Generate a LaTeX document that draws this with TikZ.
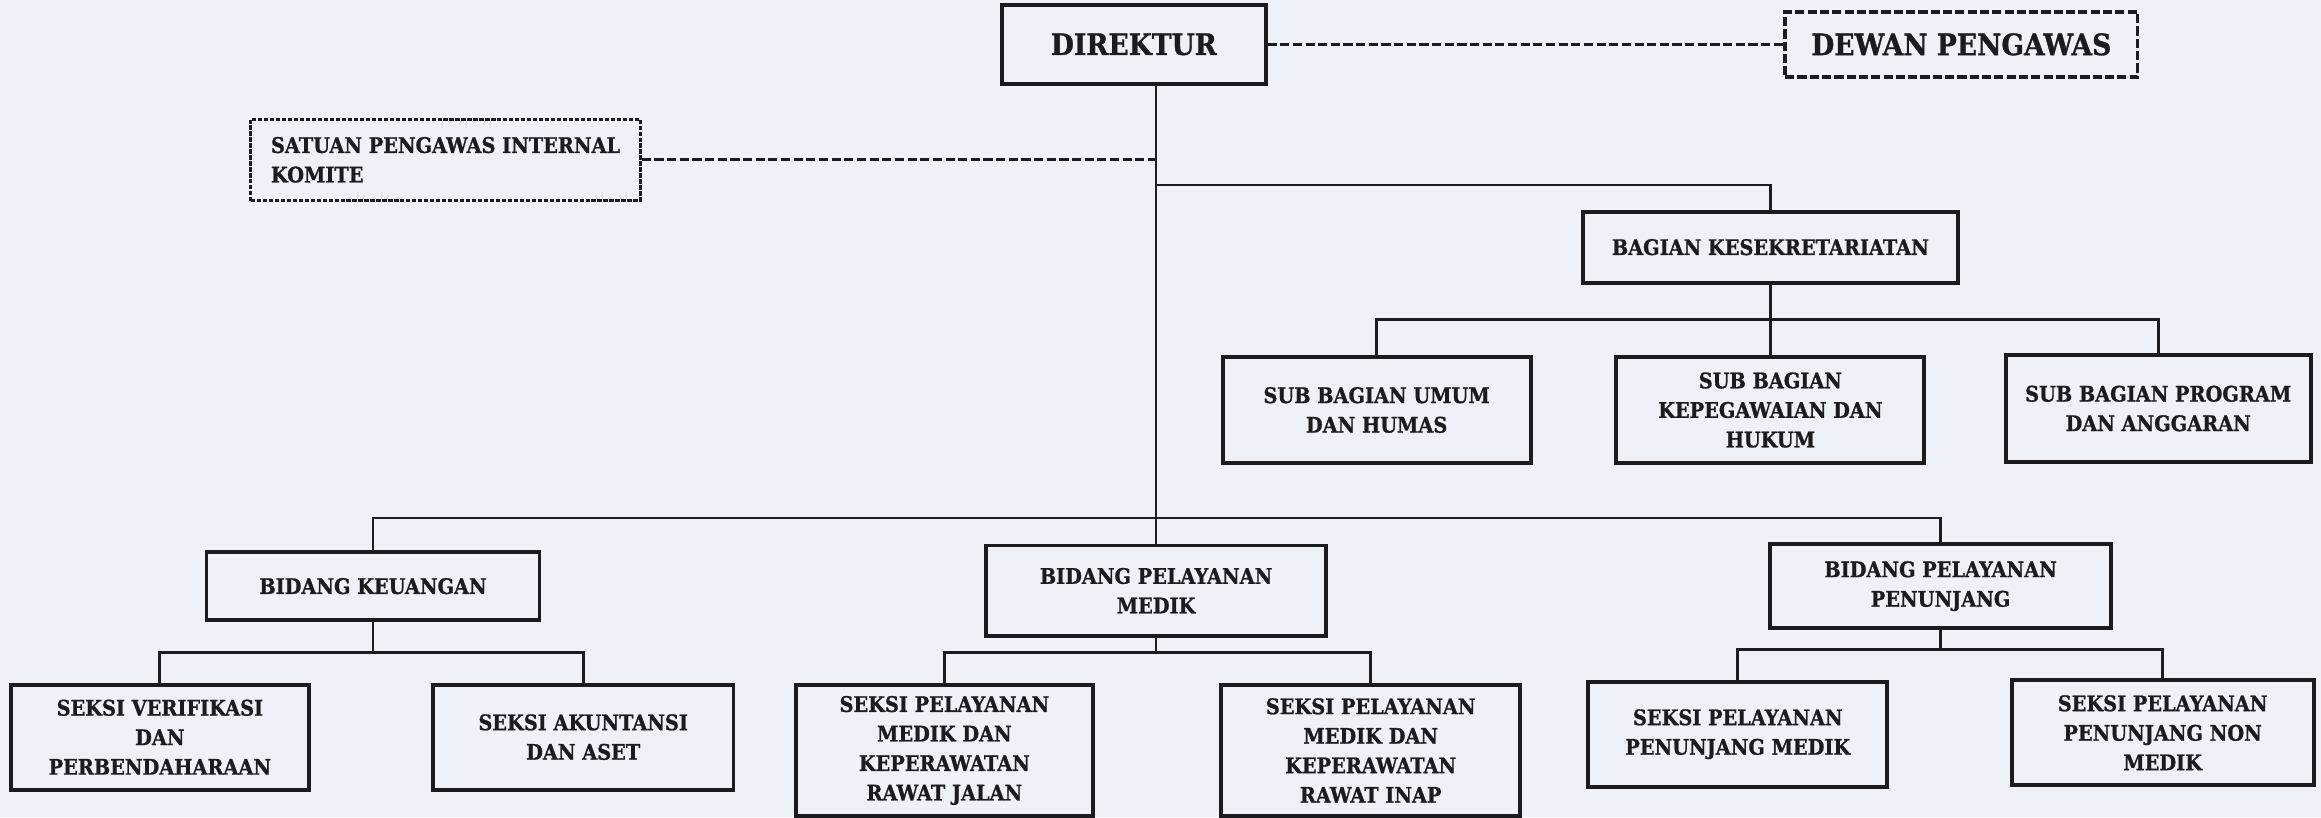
\documentclass[tikz,border=0pt]{standalone}
\usepackage{fontspec}
\setmainfont{DejaVu Serif}[FakeStretch=0.9,BoldFeatures={FakeStretch=0.9,FakeBold=1}]
\definecolor{paper}{RGB}{238,242,248}
\definecolor{ink}{RGB}{28,28,32}

\begin{document}
\begin{tikzpicture}[x=0.014802cm,y=-0.014802cm,
  box/.style={draw=ink,line width=1.1pt,align=center,inner sep=1pt,text=ink,font=\bfseries\fontsize{6.1}{8.4}\selectfont},
  big/.style={box,font=\bfseries\fontsize{8.4}{10}\selectfont},
  link/.style={draw=ink,line width=0.8pt},
  dotline/.style={draw=ink,line width=0.9pt,dash pattern=on 2.6pt off 1pt}]
  \useasboundingbox (0,0) rectangle (1568,552);
  \fill[paper] (0,0) rectangle (1568,552);

  \node[big,minimum width=2.635cm,minimum height=0.785cm] (direktur) at (766,30) {DIREKTUR};
  \node[big,dash pattern=on 2.6pt off 0.9pt,minimum width=3.523cm,minimum height=0.651cm] (dewan) at (1325,30) {DEWAN PENGAWAS};
  \node[box,align=left,line width=0.9pt,dash pattern=on 1.2pt off 0.5pt,minimum width=3.893cm,minimum height=0.814cm] (satuan) at (301,108) {SATUAN PENGAWAS INTERNAL\\KOMITE};

  \node[box,minimum width=3.745cm,minimum height=0.711cm] (bagian) at (1196,167) {BAGIAN KESEKRETARIATAN};
  \node[box,minimum width=3.079cm,minimum height=1.066cm] (subumum) at (930,277) {SUB BAGIAN UMUM\\DAN HUMAS};
  \node[box,minimum width=3.079cm,minimum height=1.066cm] (subkep) at (1196,277) {SUB BAGIAN\\KEPEGAWAIAN DAN\\HUKUM};
  \node[box,minimum width=3.049cm,minimum height=1.066cm] (subprog) at (1458,276) {SUB BAGIAN PROGRAM\\DAN ANGGARAN};

  \node[box,minimum width=3.330cm,minimum height=0.681cm] (keu) at (252,396) {BIDANG KEUANGAN};
  \node[box,minimum width=3.405cm,minimum height=0.903cm] (medik) at (781,399) {BIDANG PELAYANAN\\MEDIK};
  \node[box,minimum width=3.405cm,minimum height=0.844cm] (penunjang) at (1311,396) {BIDANG PELAYANAN\\PENUNJANG};

  \node[box,minimum width=2.975cm,minimum height=1.051cm] (verif) at (108,498) {SEKSI VERIFIKASI\\DAN\\PERBENDAHARAAN};
  \node[box,minimum width=3.005cm,minimum height=1.051cm] (aset) at (394,498) {SEKSI AKUNTANSI\\DAN ASET};
  \node[box,minimum width=2.975cm,minimum height=1.303cm] (jalan) at (638,507) {SEKSI PELAYANAN\\MEDIK DAN\\KEPERAWATAN\\RAWAT JALAN};
  \node[box,minimum width=2.990cm,minimum height=1.303cm] (inap) at (926,507) {SEKSI PELAYANAN\\MEDIK DAN\\KEPERAWATAN\\RAWAT INAP};
  \node[box,minimum width=2.990cm,minimum height=1.051cm] (pmedik) at (1174,496) {SEKSI PELAYANAN\\PENUNJANG MEDIK};
  \node[box,minimum width=3.020cm,minimum height=1.051cm] (nonmedik) at (1461,495) {SEKSI PELAYANAN\\PENUNJANG NON\\MEDIK};

  \draw[dotline] (direktur.east) -- (dewan.west);
  \draw[dotline] (satuan.east) -- (satuan.east -| medik.north);
  \draw[link] (direktur.south -| medik.north) -- (medik.north);
  \draw[link] (medik.north |- 0,125) -| (bagian.north);
  \draw[link] (bagian.south) -- (subkep.north);
  \draw[link] (subumum.north) |- (subprog.north |- 0,216) -- (subprog.north);
  \draw[link] (keu.north) |- (penunjang.north |- 0,350) -- (penunjang.north);
  \draw[link] (keu.south) -- (keu.south |- 0,441);
  \draw[link] (verif.north) |- (aset.north |- 0,441) -- (aset.north);
  \draw[link] (medik.south) -- (medik.south |- 0,441);
  \draw[link] (jalan.north) |- (inap.north |- 0,441) -- (inap.north);
  \draw[link] (penunjang.south) -- (penunjang.south |- 0,439);
  \draw[link] (pmedik.north) |- (nonmedik.north |- 0,439) -- (nonmedik.north);
\end{tikzpicture}
\end{document}
